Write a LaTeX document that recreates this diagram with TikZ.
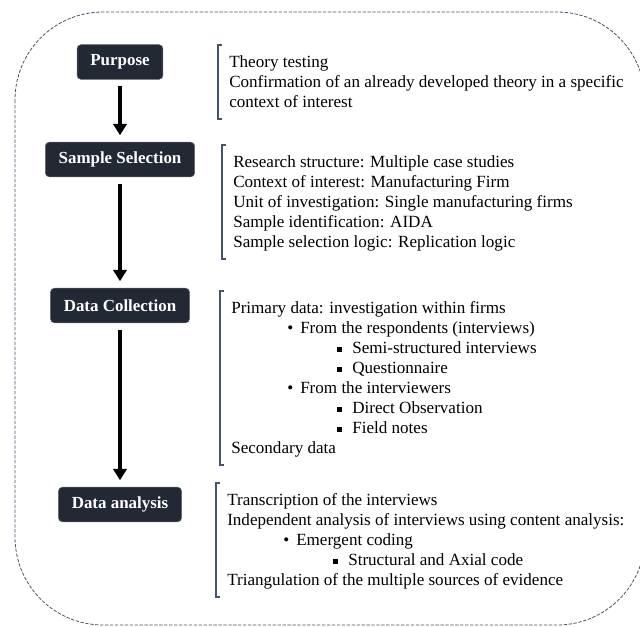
\documentclass[tikz,border=0pt]{standalone}
\usepackage{fontspec}
\setmainfont{Liberation Serif}
\usepackage{tikz}
\usetikzlibrary{arrows.meta}% Triangle arrow tips
\definecolor{stagefill}{RGB}{34,41,52}
\definecolor{slate}{RGB}{68,84,106}
\tikzset{every node/.style={font=\fontsize{12.8}{15}\selectfont},
  stagebox/.style={rectangle, rounded corners=3pt, fill=stagefill, draw=black!60,
    text=white, font=\fontsize{12.7}{15}\selectfont\bfseries,
    inner xsep=10pt, minimum height=26pt},
  itemlist/.style={anchor=north west, align=left, inner sep=0pt}}
\newcommand{\lvlone}[1]{\hspace*{42pt}\makebox[9.75pt][l]{\textbullet}#1}
\newcommand{\lvltwo}[1]{\hspace*{79.5pt}\makebox[11.25pt][l]{\raisebox{1.2pt}{\rule{3.6pt}{3.6pt}}}#1}

\begin{document}
\begin{tikzpicture}[x=0.75pt,y=-0.75pt]
\useasboundingbox (0,0) rectangle (640,626);
% dashed frame
\draw[slate, line width=0.6pt, dash pattern=on 2.5pt off 1.2pt, rounded corners=66pt]
  (15,12) rectangle (645,625);

% stages
\node[stagebox] (Purpose)    at (120,62)    {Purpose};
\node[stagebox] (Sample)     at (120,159.5) {Sample Selection};
\node[stagebox] (Collection) at (120,305.5) {Data Collection};
\node[stagebox] (Analysis)   at (120,504.5) {Data analysis};

% what each stage holds
\node[itemlist] (PurposeList) at (229,53) {\strut Theory testing\\
  Confirmation of an already developed theory in a specific\\
  context of interest\strut};
\node[itemlist] (SampleList) at (233,153) {\strut Research structure: Multiple case studies\\
  Context of interest: Manufacturing Firm\\
  Unit of investigation: Single manufacturing firms\\
  Sample identification: AIDA\\
  Sample selection logic: Replication logic\strut};
\node[itemlist] (CollectionList) at (231,299) {\strut Primary data: investigation within firms\\
  \lvlone{From the respondents (interviews)}\\
  \lvltwo{Semi-structured interviews}\\
  \lvltwo{Questionnaire}\\
  \lvlone{From the interviewers}\\
  \lvltwo{Direct Observation}\\
  \lvltwo{Field notes}\\
  Secondary data\strut};
\node[itemlist] (AnalysisList) at (227,491) {\strut Transcription of the interviews\\
  Independent analysis of interviews using content analysis:\\
  \lvlone{Emergent coding}\\
  \lvltwo{Structural and Axial code}\\
  Triangulation of the multiple sources of evidence\strut};

\begin{scope}[-{Triangle[width=10pt,length=8.5pt]}, line width=2.8pt, shorten <=5pt, shorten >=5pt]
\draw (Purpose) -- (Sample);
\draw (Sample) -- (Collection);
\draw (Collection) -- (Analysis);
\end{scope}

% brackets
\begin{scope}[slate, line width=1.5pt]
\draw ([xshift=-5pt,yshift=6pt]PurposeList.north west) -- ++(-3pt,0)
      |- ([xshift=-5pt,yshift=-4pt]PurposeList.south west);
\draw ([xshift=-5pt,yshift=6pt]SampleList.north west) -- ++(-3pt,0)
      |- ([xshift=-5pt,yshift=-4pt]SampleList.south west);
\draw ([xshift=-5pt,yshift=6pt]CollectionList.north west) -- ++(-3pt,0)
      |- ([xshift=-5pt,yshift=-4pt]CollectionList.south west);
\draw ([xshift=-5pt,yshift=6pt]AnalysisList.north west) -- ++(-3pt,0)
      |- ([xshift=-5pt,yshift=-4pt]AnalysisList.south west);
\end{scope}
\end{tikzpicture}
\end{document}
